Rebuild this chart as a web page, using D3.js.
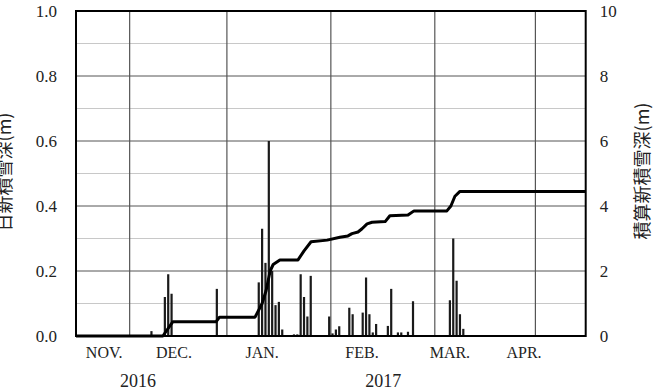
<!DOCTYPE html>
<html>
<head>
<meta charset="utf-8">
<script src="https://cdn.jsdelivr.net/npm/d3@7"></script>
<style>
  body { margin: 0; background: #fff; }
</style>
</head>
<body>
<svg id="chart" width="654" height="390"></svg>
<script>
// day index on x (0 = left edge of the plot)
const monthLines = [16, 45, 76, 107, 137]
const monthLabels = ['NOV.', 'DEC.', 'JAN.', 'FEB.', 'MAR.', 'APR.']
const monthLabelDays = [8.4, 29.2, 55.5, 85.3, 111.5, 133.6]
const yearLabels = ['2016', '2017']
const yearLabelDays = [18.5, 91.6]

// daily new snow depth (m), left axis
const barDays = [22.5, 26.5, 27.5, 28.5, 42, 54.5, 55.5, 56.5, 57.5, 58.5, 59.5, 60.5, 61.5,
  65, 66, 67, 68, 69, 70, 75.5, 76.5, 77.5, 78.5, 81.5, 82.5, 85.5, 86.5, 87.5, 88.5, 89.5,
  93, 94, 96, 97, 99, 100.5, 111.5, 112.5, 113.5, 114.5, 115.5]
const barValues = [0.015, 0.12, 0.19, 0.13, 0.145, 0.165, 0.33, 0.225, 0.6, 0.2, 0.095, 0.105, 0.02,
  0.005, 0.005, 0.19, 0.12, 0.06, 0.185, 0.06, 0.008, 0.02, 0.03, 0.087, 0.067, 0.072, 0.18, 0.067, 0.011, 0.037,
  0.031, 0.145, 0.011, 0.011, 0.013, 0.107, 0.11, 0.30, 0.17, 0.067, 0.022]

// accumulated new snow depth (m), right axis
const sumDays = [0, 25.9, 28.9, 41.8, 42.8, 53.4, 55.5, 56.7, 57.9, 58.8, 60.8, 66.2, 68, 70.1,
  74.9, 78.7, 81.1, 82.3, 84.1, 85.3, 86.8, 88.3, 92.2, 93.6, 99, 100.8, 110.6, 111.8, 113, 114.5, 152]
const sumValues = [0, 0, 0.44, 0.44, 0.58, 0.58, 1.0, 1.4, 2.0, 2.2, 2.34, 2.34, 2.62, 2.9,
  2.95, 3.04, 3.08, 3.15, 3.2, 3.3, 3.45, 3.5, 3.52, 3.7, 3.72, 3.85, 3.85, 4.0, 4.3, 4.45, 4.45]

const leftTicks = [0, 0.2, 0.4, 0.6, 0.8, 1.0]
const rightTicks = [0, 2, 4, 6, 8, 10]
const gridValues = d3.range(1, 10).map(d => d / 10)

const SERIF = "'Liberation Serif'"
const JP = "'Noto Sans CJK JP'"

const svg = d3.select('#chart')
const plot = { left: 76, right: 585.7, top: 11, bottom: 336 }

const x = d3.scaleLinear().domain([0, 152]).range([plot.left, plot.right])
const yL = d3.scaleLinear().domain([0, 1]).range([plot.bottom, plot.top])
const yR = d3.scaleLinear().domain([0, 10]).range([plot.bottom, plot.top])

// horizontal grid
svg.append('g')
  .selectAll('line')
  .data(gridValues)
  .enter()
  .append('line')
  .attr('x1', plot.left).attr('x2', plot.right)
  .attr('y1', d => yL(d)).attr('y2', d => yL(d))
  .attr('stroke', (d, i) => i % 2 === 1 ? '#555' : '#c8c8c8')
  .attr('stroke-width', 1)

// month separators
svg.append('g')
  .selectAll('line')
  .data(monthLines)
  .enter()
  .append('line')
  .attr('x1', d => x(d)).attr('x2', d => x(d))
  .attr('y1', plot.top).attr('y2', plot.bottom)
  .attr('stroke', '#555')
  .attr('stroke-width', 1.2)

// bars
svg.append('g')
  .selectAll('rect')
  .data(barDays.map((d, i) => ({ day: d, v: barValues[i] })))
  .enter()
  .append('rect')
  .attr('x', d => x(d.day) - 1.1)
  .attr('width', 2.2)
  .attr('y', d => yL(d.v))
  .attr('height', d => plot.bottom - yL(d.v))
  .attr('fill', '#1a1a1a')

// cumulative line
const line = d3.line()
  .x(d => x(d[0]))
  .y(d => yR(d[1]))
svg.append('path')
  .datum(sumDays.map((d, i) => [d, sumValues[i]]))
  .attr('d', line)
  .attr('fill', 'none')
  .attr('stroke', '#000')
  .attr('stroke-width', 3)
  .attr('stroke-linejoin', 'round')

// frame
svg.append('rect')
  .attr('x', plot.left).attr('y', plot.top)
  .attr('width', plot.right - plot.left).attr('height', plot.bottom - plot.top)
  .attr('fill', 'none')
  .attr('stroke', '#000')
  .attr('stroke-width', 2)

// axes
const leftAxis = svg.append('g')
  .attr('transform', `translate(${plot.left},0)`)
  .call(d3.axisLeft(yL).tickValues(leftTicks).tickFormat(d3.format('.1f')).tickSize(0).tickPadding(19))
const rightAxis = svg.append('g')
  .attr('transform', `translate(${plot.right},0)`)
  .call(d3.axisRight(yR).tickValues(rightTicks).tickSize(0).tickPadding(14))
for (const ax of [leftAxis, rightAxis]) {
  ax.select('.domain').remove()
  ax.selectAll('text')
    .attr('font-family', SERIF)
    .attr('font-size', 17)
    .attr('fill', '#222')
}

// month and year labels
svg.append('g')
  .selectAll('text')
  .data(monthLabels)
  .enter()
  .append('text')
  .attr('font-family', SERIF)
  .attr('fill', '#222')
  .attr('x', (d, i) => x(monthLabelDays[i]))
  .attr('y', 358)
  .attr('text-anchor', 'middle')
  .attr('font-size', 16)
  .text(d => d)
svg.append('g')
  .selectAll('text')
  .data(yearLabels)
  .enter()
  .append('text')
  .attr('font-family', SERIF)
  .attr('fill', '#222')
  .attr('x', (d, i) => x(yearLabelDays[i]))
  .attr('y', 387)
  .attr('text-anchor', 'middle')
  .attr('font-size', 18)
  .text(d => d)

// axis titles
svg.append('text')
  .attr('font-family', JP)
  .attr('fill', '#222')
  .attr('transform', 'translate(11,172) rotate(-90)')
  .attr('text-anchor', 'middle')
  .attr('font-size', 18)
  .text('日新積雪深(m)')
svg.append('text')
  .attr('font-family', JP)
  .attr('fill', '#222')
  .attr('transform', 'translate(649,171) rotate(-90)')
  .attr('text-anchor', 'middle')
  .attr('font-size', 18)
  .text('積算新積雪深(m)')
</script>
</body>
</html>
